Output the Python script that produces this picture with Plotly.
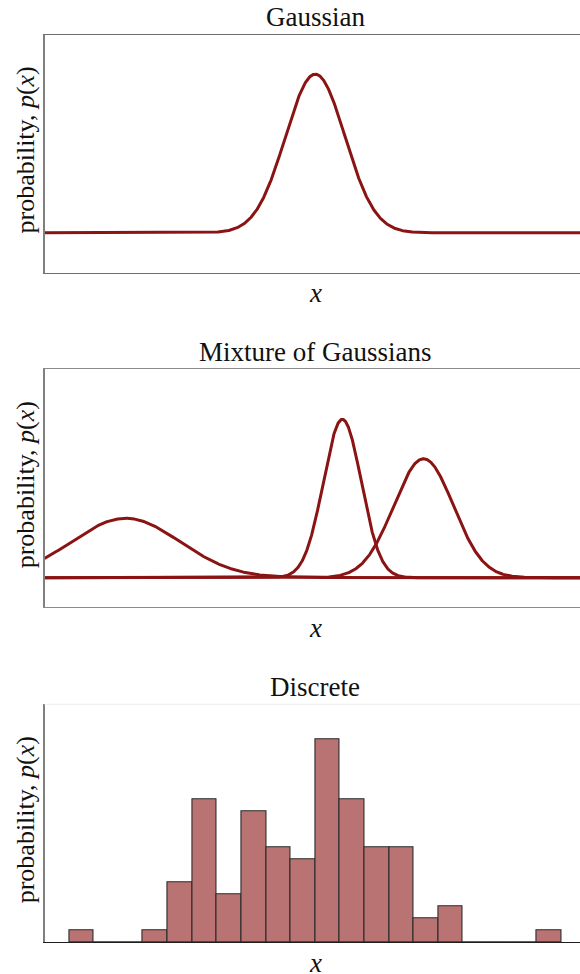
import numpy as np
import plotly.graph_objects as go

# ---------------- data ----------------
# Panel 1: single Gaussian (mean, sigma, peak height)
gauss_mean = [0.0]
gauss_sigma = [0.55]
gauss_peak = [1.0]

# Panel 2: mixture components (each drawn separately)
mix_means = [-3.5, 0.5, 2.0]
mix_sigmas = [1.0, 0.35, 0.55]
mix_peaks = [0.375, 1.0, 0.751]

# Panel 3: discrete histogram (counts per bin, 20 bins)
bin_index = list(range(20))
bin_counts = [1, 0, 0, 1, 5, 12, 4, 11, 8, 7, 17, 12, 8, 8, 2, 3, 0, 0, 0, 1]

titles = ["Gaussian", "Mixture of Gaussians", "Discrete"]

# ---------------- layout constants ----------------
W, H = 580, 974
left_px = 44.5
full_right_px = 586.0
panels_px = [(34.5, 272.5), (369.3, 607.3), (704.3, 942.3)]

LINE = "#8a1414"
FILL = "rgb(185,115,115)"
FONT = "Liberation Serif"
FS = 27
FS_Y = 26

xs = np.linspace(-5, 5.2, 2041)

def curve(m, s, h):
    return h * np.exp(-0.5 * ((xs - m) / s) ** 2)

fig = go.Figure()

for m, s, h in zip(gauss_mean, gauss_sigma, gauss_peak):
    fig.add_trace(go.Scatter(x=xs, y=curve(m, s, h), mode="lines",
                             line=dict(color=LINE, width=3),
                             xaxis="x", yaxis="y", showlegend=False, hoverinfo="skip"))
for m, s, h in zip(mix_means, mix_sigmas, mix_peaks):
    fig.add_trace(go.Scatter(x=xs, y=curve(m, s, h), mode="lines",
                             line=dict(color=LINE, width=3),
                             xaxis="x2", yaxis="y2", showlegend=False, hoverinfo="skip"))
fig.add_trace(go.Bar(x=[i + 0.5 for i in bin_index], y=bin_counts, width=1.0,
                     marker=dict(color=FILL, line=dict(color="#2a2a2a", width=1.1)),
                     xaxis="x3", yaxis="y3", showlegend=False, hoverinfo="skip"))

x_frac = (W - left_px) / (full_right_px - left_px)
x_rng = [-5, -5 + 10 * x_frac]
x3_rng = [-1, -1 + 22 * x_frac]

def ydom(top, bot):
    return [1 - bot / H, 1 - top / H]

axis_common = dict(showticklabels=False, ticks="", showgrid=False, zeroline=False)
xd = [left_px / W, 1]

fig.update_layout(
    width=W, height=H, margin=dict(l=0, r=0, t=0, b=0, pad=0),
    plot_bgcolor="white", paper_bgcolor="white", bargap=0,
    xaxis=dict(domain=xd, range=x_rng, showline=True, mirror=True,
               linecolor="#6e6e6e", linewidth=1.2, anchor="y", **axis_common),
    yaxis=dict(domain=ydom(*panels_px[0]), range=[-0.25, 1.25], showline=True,
               linecolor="#808080", linewidth=1.6, anchor="x", **axis_common),
    xaxis2=dict(domain=xd, range=x_rng, showline=True, mirror=True,
                linecolor="#8a8a8a", linewidth=1.2, anchor="y2", **axis_common),
    yaxis2=dict(domain=ydom(*panels_px[1]), range=[-0.187, 1.316], showline=True,
                linecolor="#808080", linewidth=1.6, anchor="x2", **axis_common),
    xaxis3=dict(domain=xd, range=x3_rng, showline=True, mirror=False,
                linecolor="#1e1e1e", linewidth=1.2, anchor="y3", **axis_common),
    yaxis3=dict(domain=ydom(*panels_px[2]), range=[0, 19.97], showline=True,
                linecolor="#808080", linewidth=1.6, anchor="x3", **axis_common),
)

fig.add_shape(type="line", xref="paper", yref="paper",
              x0=left_px / W, x1=1, y0=1 - panels_px[2][0] / H, y1=1 - panels_px[2][0] / H,
              line=dict(color="#ececec", width=1))

center_x = (left_px + full_right_px) / 2 / W
for (top, bot), t in zip(panels_px, titles):
    fig.add_annotation(text=t, xref="paper", yref="paper", x=center_x,
                       y=1 - (top - 17) / H, showarrow=False, xanchor="center", yanchor="middle",
                       font=dict(family=FONT, size=FS, color="#111"))
    fig.add_annotation(text="<i>x</i>", xref="paper", yref="paper", x=center_x,
                       y=1 - (bot + 20.5) / H, showarrow=False, xanchor="center", yanchor="middle",
                       font=dict(family=FONT, size=FS, color="#111"))
    fig.add_annotation(text="probability, <i>p</i>(<i>x</i>)", xref="paper", yref="paper",
                       x=25 / W, y=1 - ((top + bot) / 2 - 3) / H, textangle=-90,
                       showarrow=False, xanchor="center", yanchor="middle",
                       font=dict(family=FONT, size=FS_Y, color="#111"))

fig.write_html(
    "out.html",
    config={"displayModeBar": False},
    post_script=(
        "document.body.style.margin='0px';"
        "document.body.style.overflow='hidden';"
        "document.documentElement.style.overflow='hidden';"
    ),
)
